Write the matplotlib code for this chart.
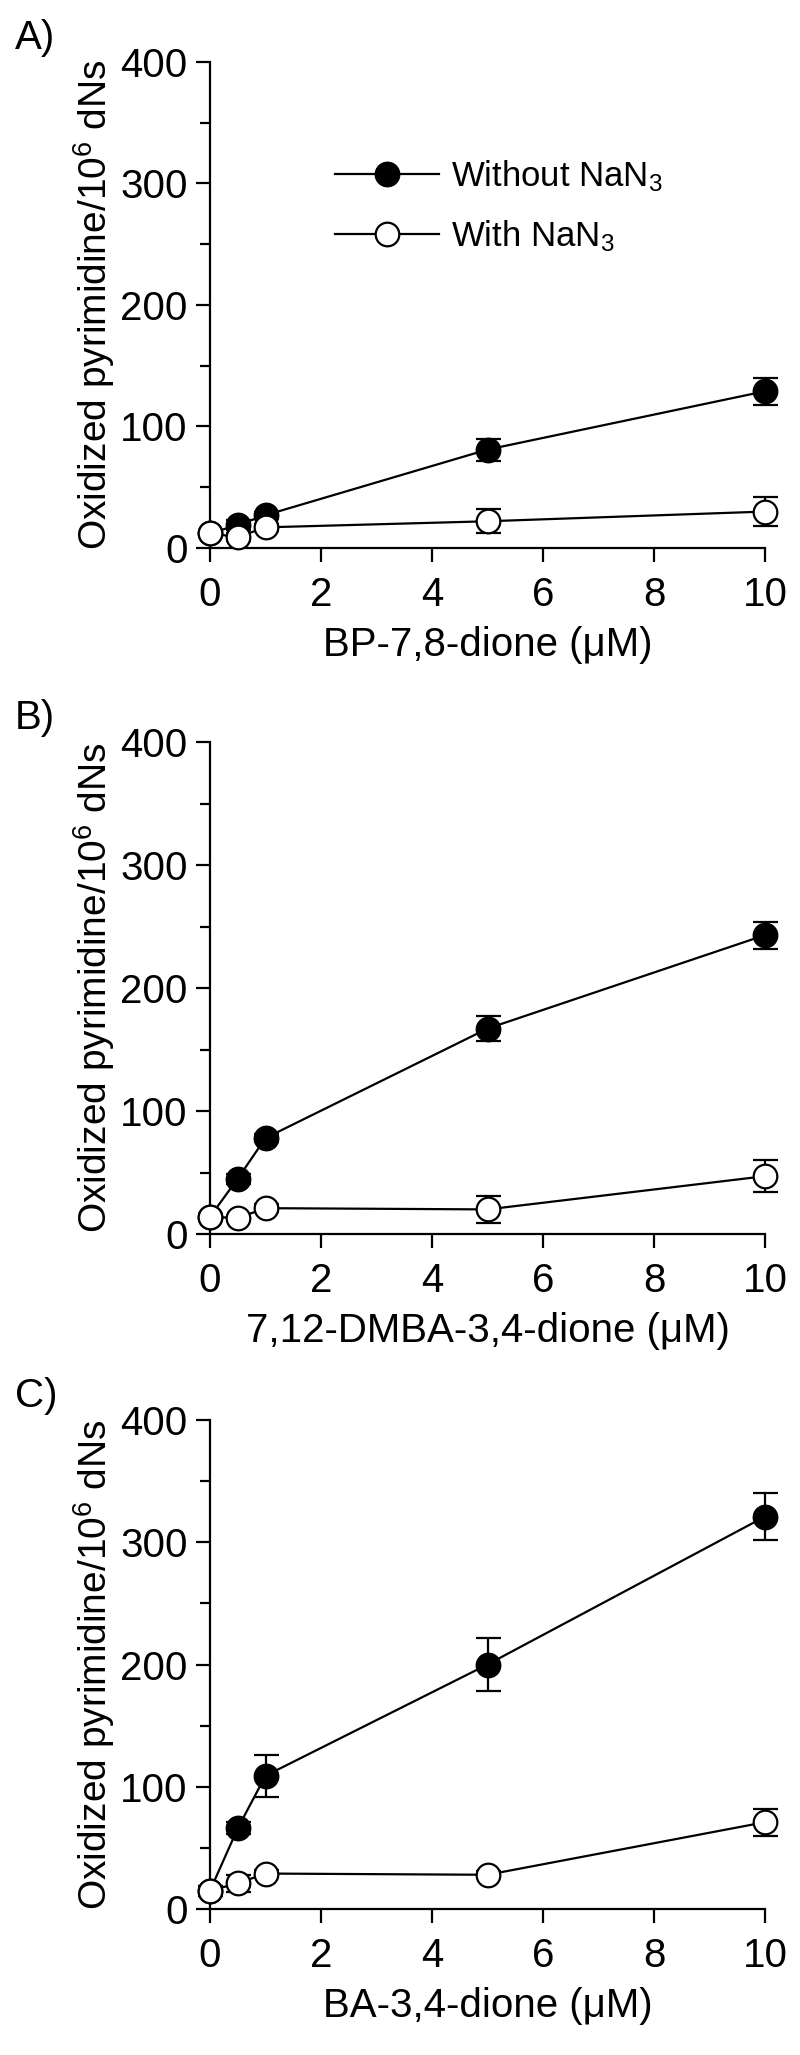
import numpy as np
import matplotlib
matplotlib.use("Agg")
import matplotlib.pyplot as plt
from matplotlib.lines import Line2D

plt.rcParams['font.family'] = ['Liberation Sans', 'DejaVu Sans']
plt.rcParams['mathtext.fontset'] = 'custom'
plt.rcParams['mathtext.rm'] = 'Liberation Sans'
plt.rcParams['mathtext.it'] = 'Liberation Sans'

conc = [0, 0.5, 1, 5, 10]

# panel A: BP-7,8-dione
a_without = [12, 19, 27, 81, 129]
a_without_err = [2, 4, 3, 9, 11]
a_with = [12, 9, 17, 22, 30]
a_with_err = [2, 3, 3, 10, 12]

# panel B: 7,12-DMBA-3,4-dione
b_without = [14, 45, 78, 167, 243]
b_without_err = [2, 4, 3, 10, 11]
b_with = [14, 13, 21, 20, 47]
b_with_err = [2, 2, 3, 11, 13]

# panel C: BA-3,4-dione
c_without = [15, 66, 109, 200, 321]
c_without_err = [4, 5, 17, 22, 19]
c_with = [15, 21, 29, 28, 71]
c_with_err = [4, 7, 3, 3, 11]

panel_tags = ['A)', 'B)', 'C)']
xlabels = ['BP-7,8-dione (\u03bcM)', '7,12-DMBA-3,4-dione (\u03bcM)', 'BA-3,4-dione (\u03bcM)']
ylabel = 'Oxidized pyrimidine/10$^{6}$ dNs'
legend_labels = ['Without NaN$_{3}$', 'With NaN$_{3}$']

panels = [
    (a_without, a_without_err, a_with, a_with_err),
    (b_without, b_without_err, b_with, b_with_err),
    (c_without, c_without_err, c_with, c_with_err),
]

W, H = 800, 2055
# axes boxes in pixels: left, top, right, bottom
boxes = [(210, 62, 765, 548), (210, 742, 765, 1234), (210, 1420, 765, 1909)]

fig = plt.figure(figsize=(W / 100, H / 100), dpi=100)

fs = 29
lw = 1.6
for i, (wo, wo_e, wi, wi_e) in enumerate(panels):
    l, t, r, b = boxes[i]
    ax = fig.add_axes([l / W, 1 - b / H, (r - l) / W, (b - t) / H])
    style = dict(color='black', lw=lw, marker='o', ms=17, mew=lw,
                 capsize=9, elinewidth=lw, capthick=lw, clip_on=False)
    h1 = ax.errorbar(conc, wo, yerr=wo_e, mfc='black', mec='black', zorder=3, **style)
    h2 = ax.errorbar(conc, wi, yerr=wi_e, mfc='white', mec='black', zorder=4, **style)
    for h in (h1, h2):
        for art in h.lines[1] + h.lines[2]:
            art.set_clip_on(False)

    ax.set_xlim(0, 10)
    ax.set_ylim(0, 400)
    ax.set_xticks([0, 2, 4, 6, 8, 10])
    ax.set_yticks([0, 100, 200, 300, 400])
    ax.set_yticks([50, 150, 250, 350], minor=True)
    ax.spines['top'].set_visible(False)
    ax.spines['right'].set_visible(False)
    for s in ('left', 'bottom'):
        ax.spines[s].set_linewidth(lw)
    ax.tick_params(axis='both', which='major', direction='out', length=10, width=lw, labelsize=fs)
    ax.tick_params(axis='y', which='minor', direction='out', length=7, width=lw)
    ax.tick_params(axis='x', pad=10)
    ax.tick_params(axis='y', pad=6)
    ax.set_xlabel(xlabels[i], fontsize=fs, labelpad=9)
    ax.set_ylabel(ylabel, fontsize=28, labelpad=2)

    fig.text(15 / W, 1 - (t - 24) / H, panel_tags[i], fontsize=29, ha='left', va='center')

    if i == 0:
        handles = [Line2D([], [], color='black', lw=lw, marker='o', ms=17, mew=lw, mfc='black', mec='black'),
                   Line2D([], [], color='black', lw=lw, marker='o', ms=17, mew=lw, mfc='white', mec='black')]
        ax.legend(handles, legend_labels,
                  loc='upper left', bbox_to_anchor=(0.2, 0.83),
                  frameon=False, fontsize=25, handlelength=3.0,
                  handletextpad=0.35, labelspacing=0.7, borderaxespad=0)

fig.savefig('out.png', dpi=100)
